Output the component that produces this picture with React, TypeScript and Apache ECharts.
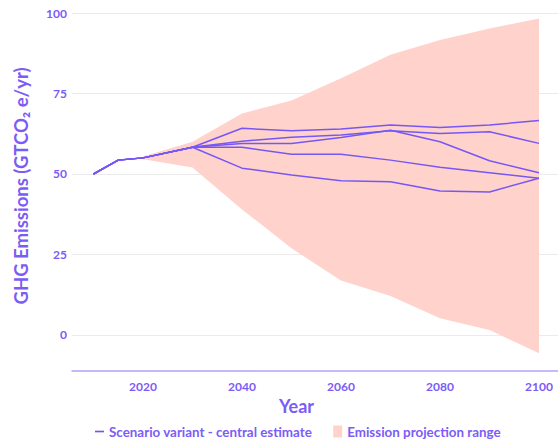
import React, { useEffect, useRef } from "react";
import * as echarts from "echarts";

const years = [2010, 2015, 2020, 2030, 2040, 2050, 2060, 2070, 2080, 2090, 2100];
const commonPath = [50, 54.3, 55, 58.3];
const scenario1 = [64.2, 63.4, 64.0, 65.2, 64.4, 65.2, 66.6];
const scenario2 = [60.2, 61.4, 62.1, 63.4, 62.6, 63.1, 59.5];
const scenario3 = [59.5, 59.5, 61.3, 63.6, 60.0, 54.1, 50.4];
const scenario4 = [58.3, 56.1, 56.1, 54.3, 52.1, 50.4, 48.7];
const scenario5 = [51.8, 49.7, 47.9, 47.6, 44.7, 44.4, 48.7];
const scenarios = [scenario1, scenario2, scenario3, scenario4, scenario5];

const bandYears = [2020, 2030, 2040, 2050, 2060, 2070, 2080, 2090, 2100];
const bandLow = [54.6, 52.0, 39.0, 26.9, 16.9, 12.1, 5.2, 1.5, -5.7];
const bandHigh = [55.4, 60.0, 68.8, 72.8, 79.7, 87.0, 91.6, 95.2, 98.3];

const xTicks = [2020, 2040, 2060, 2080, 2100];
const yTicks = [0, 25, 50, 75, 100];

const LINE_NAME = "Scenario variant - central estimate";
const BAND_NAME = "Emission projection range";

const PURPLE = "#7b5cf6";
const LINE = "#7657f6";
const PINK = "#ffd3cc";
const FONT = "Lato";

export default function App() {
  const ref = useRef<HTMLDivElement>(null);
  useEffect(() => {
    if (!ref.current) return;
    const chart = echarts.init(ref.current, null, { renderer: "svg" });

    const lineSeries = scenarios.map((s) => ({
      name: LINE_NAME,
      type: "line",
      data: years.map((y, i) => [y, i < commonPath.length ? commonPath[i] : s[i - commonPath.length]]),
      symbol: "none",
      lineStyle: { color: LINE, width: 1.5 },
      itemStyle: { color: LINE },
      z: 3,
    }));

    chart.setOption({
      animation: false,
      textStyle: { fontFamily: FONT },
      grid: { left: 72, right: 0, top: 13, bottom: 70, containLabel: false },
      xAxis: {
        type: "value",
        min: 2005.66,
        max: 2103.84,
        name: "Year",
        nameLocation: "middle",
        nameGap: 24,
        nameTextStyle: { color: PURPLE, fontSize: 18, fontWeight: "bold", fontFamily: FONT, padding: [0, 37, 0, 0] },
        axisLine: { show: true, onZero: false, lineStyle: { color: "#b3a2fb", width: 1.5 } },
        axisTick: { show: false, customValues: xTicks },
        axisLabel: {
          customValues: xTicks,
          formatter: (v: number) => String(v),
          color: PURPLE,
          fontSize: 12,
          fontWeight: "bold",
          fontFamily: FONT,
          margin: 9,
        },
        splitLine: { show: false },
      },
      yAxis: {
        type: "value",
        min: -11.2,
        max: 100,
        name: "GHG Emissions (GTCO₂ e/yr)",
        nameLocation: "middle",
        nameRotate: 90,
        nameGap: 42,
        nameTextStyle: { color: PURPLE, fontSize: 18.5, fontWeight: "bold", fontFamily: FONT, padding: [0, 0, 0, 12] },
        axisLine: { show: false },
        axisTick: { show: false, customValues: yTicks },
        axisLabel: { customValues: yTicks, color: PURPLE, fontSize: 12, fontWeight: "bold", fontFamily: FONT, margin: 5 },
        splitLine: { show: true, lineStyle: { color: "#ebebeb", width: 1 } },
      },
      legend: {
        left: 90,
        top: 420,
        itemGap: 21,
        itemWidth: 9,
        itemHeight: 12,
        textStyle: { color: PURPLE, fontSize: 13.4, fontWeight: "bold", fontFamily: FONT },
        data: [
          { name: LINE_NAME, icon: "path://M0,5h8v1.5h-8z" },
          { name: BAND_NAME, icon: "rect" },
        ],
      },
      series: [
        {
          name: BAND_NAME,
          type: "custom",
          data: [[0]],
          itemStyle: { color: PINK },
          z: 1,
          renderItem: (_params: any, api: any) => {
            const upper = bandYears.map((y, i) => api.coord([y, bandHigh[i]]));
            const lower = bandYears.map((y, i) => api.coord([y, bandLow[i]])).reverse();
            return {
              type: "polygon",
              shape: { points: upper.concat(lower) },
              style: { fill: PINK },
            };
          },
        },
        ...lineSeries,
      ],
    });
    return () => chart.dispose();
  }, []);
  return <div ref={ref} style={{ width: 558, height: 441, position: "absolute", left: 0, top: 0 }} />;
}
